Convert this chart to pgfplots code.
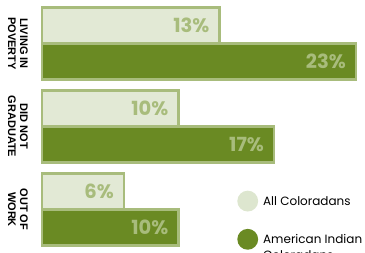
\documentclass[border=0pt]{standalone}
\usepackage{fontspec}
\setmainfont{Poppins}
\newfontfamily\labfont{Liberation Sans}
\usepackage{pgfplots}
\pgfplotsset{compat=1.18}
\definecolor{lightfill}{HTML}{E2E9D5}
\definecolor{darkfill}{HTML}{6A8A23}
\definecolor{bord}{HTML}{A8BC7C}
\definecolor{legdark}{HTML}{6A8A23}
\definecolor{leglight}{HTML}{DDE6CF}
\begin{document}
\begin{tikzpicture}
\useasboundingbox (0,0) rectangle (365pt,253pt);
\clip (0,0) rectangle (365pt,253pt);
\begin{axis}[
  x=13.65pt, y=83pt,
  xmin=0, xmax=23.5, ymin=-0.6, ymax=2.6,
  anchor=south west, at={(42pt,-6.3pt)},
  axis lines=none, clip=false,
  /pgf/number format/assume math mode=true,
  xbar, bar width=36pt,
  point meta=x,
  nodes near coords={\pgfmathprintnumber{\pgfplotspointmeta}\%},
  every node near coord/.append style={anchor=east, xshift=-9pt, inner sep=0pt,
     font=\fontsize{19.5}{19.5}\selectfont\bfseries, text=bord},
  legend style={draw=none, fill=none, inner sep=0pt, outer sep=0pt,
     at={(axis cs:14.31,0.2265)}, anchor=north west,
     row sep=17.4pt, column sep=3pt,
     cells={anchor=base west, align=left, inner sep=0pt, font=\fontsize{12}{16}\selectfont}},
]
\addplot[fill=lightfill, draw=bord, line width=2.2pt, bar shift=18pt,
  legend image code/.code={\fill[leglight] (9.3pt,4.3pt) circle (9.3pt);}]
  coordinates {(13,2) (10,1) (6,0)};
\addlegendentry{All Coloradans}
\addplot[fill=darkfill, draw=bord, line width=2.2pt, bar shift=-18pt,
  legend image code/.code={\fill[legdark] (9.3pt,20.3pt) circle (9.3pt);}]
  coordinates {(23,2) (17,1) (10,0)};
\addlegendentry{American Indian\\Coloradans}
\node[rotate=-90, align=center, inner sep=0pt, font=\labfont\bfseries\fontsize{11}{12}\selectfont]
  at ([xshift=-24pt]axis cs:0,2) {LIVING IN\\POVERTY};
\node[rotate=-90, align=center, inner sep=0pt, font=\labfont\bfseries\fontsize{11}{12}\selectfont]
  at ([xshift=-24pt]axis cs:0,1) {DID NOT\\GRADUATE};
\node[rotate=-90, align=center, inner sep=0pt, font=\labfont\bfseries\fontsize{11}{12}\selectfont]
  at ([xshift=-24pt]axis cs:0,0) {OUT OF\\WORK};
\end{axis}
\end{tikzpicture}
\end{document}
